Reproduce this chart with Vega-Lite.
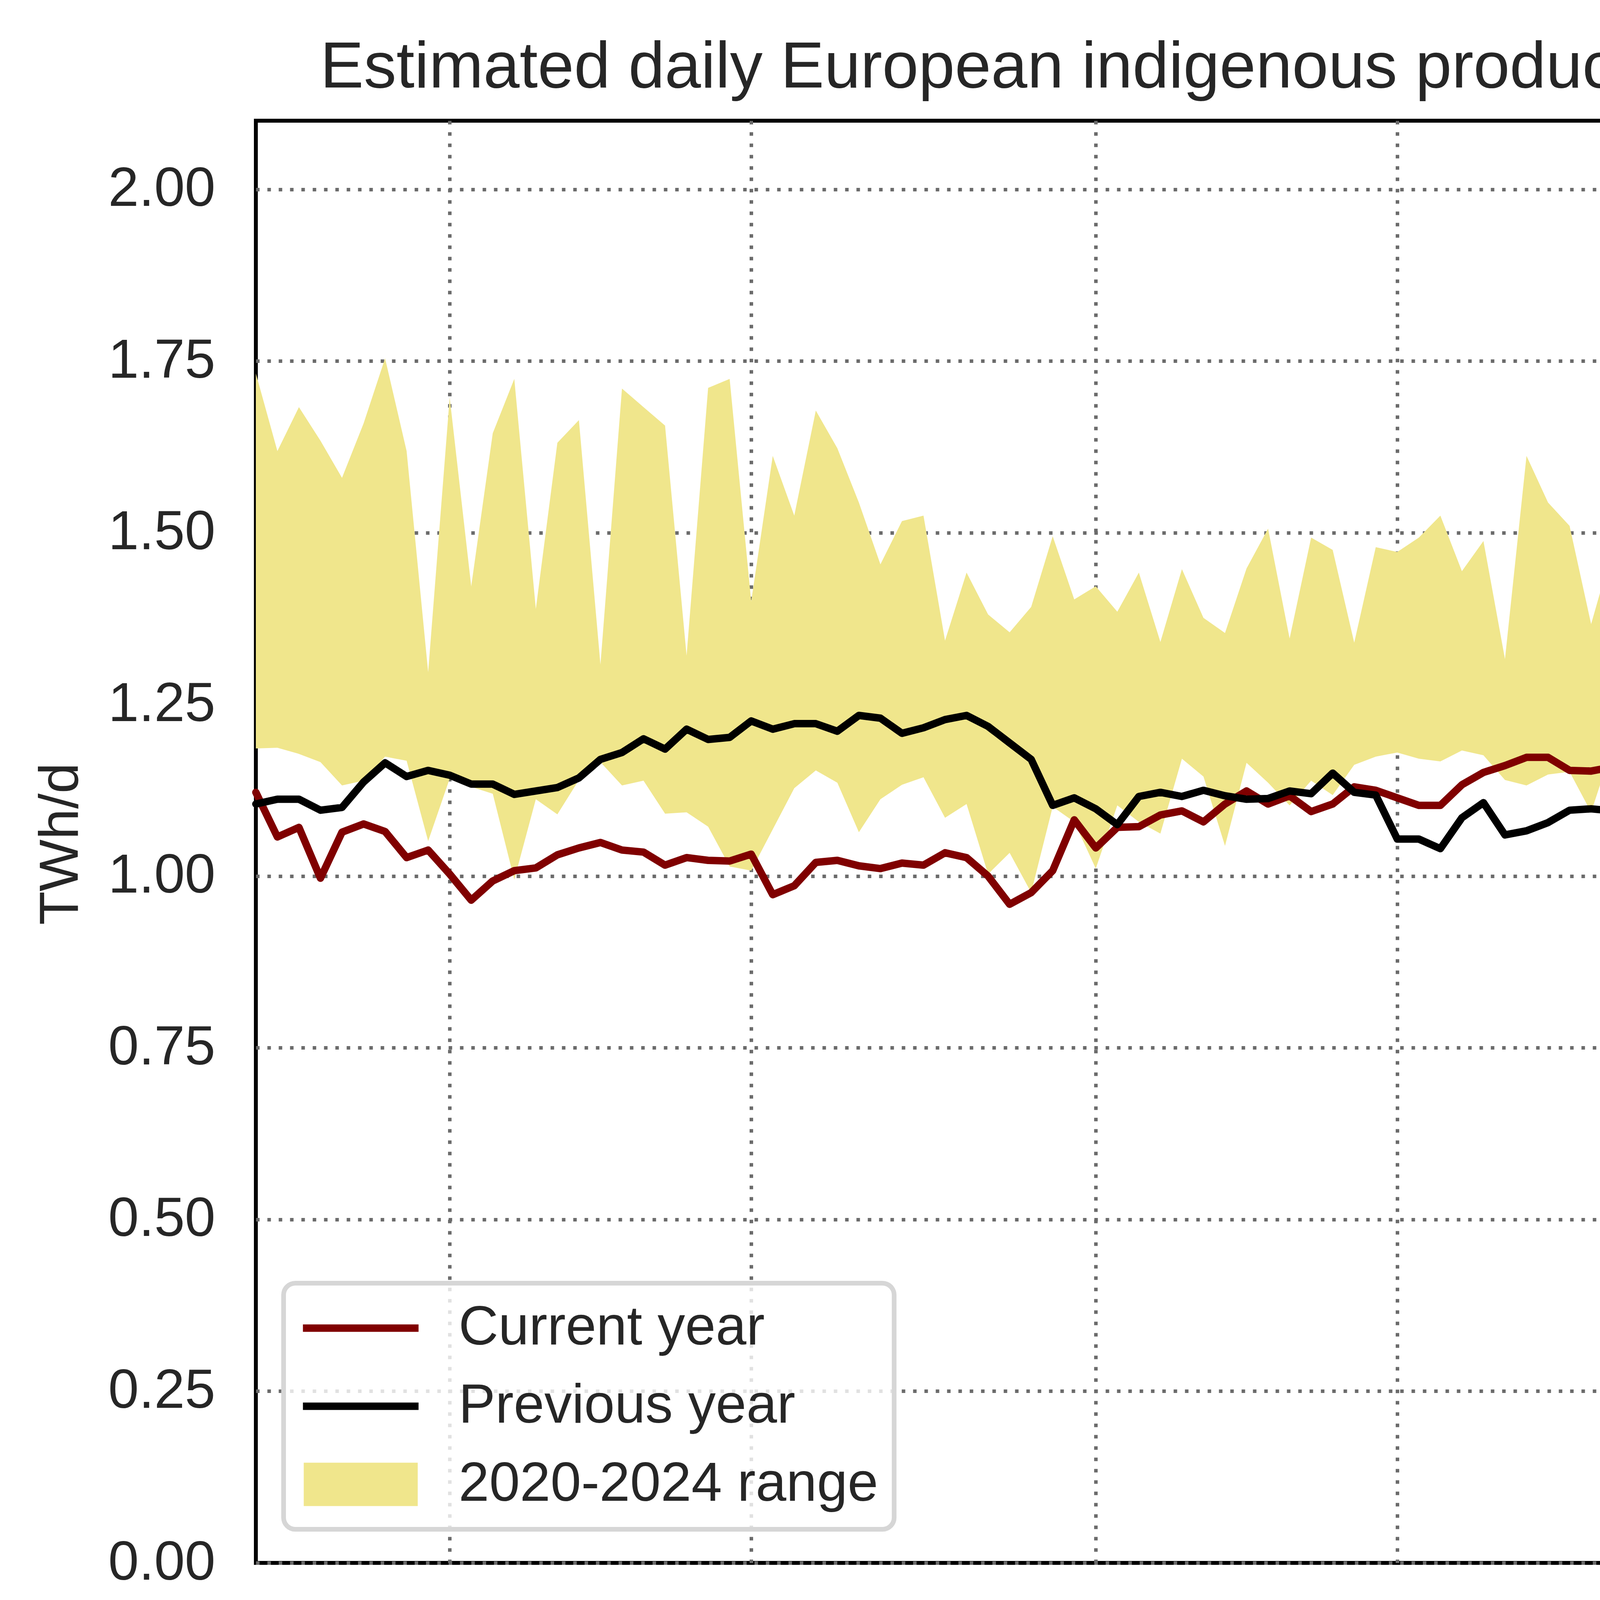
{
  "$schema": "https://vega.github.io/schema/vega-lite/v6.json",
  "width": 5713,
  "height": 4906,
  "autosize": {"type": "fit", "contains": "padding"},
  "padding": {"left": 85, "top": 90, "right": 96, "bottom": 60},
  "background": "white",
  "title": {
    "text": "Estimated daily European indigenous production (last 90 days)",
    "font": "Liberation Sans",
    "fontSize": 167,
    "fontWeight": "normal",
    "color": "#262626",
    "anchor": "middle",
    "baseline": "alphabetic",
    "offset": 83,
    "dy": 165,
    "limit": 6000
  },
  "config": {
    "view": {"stroke": "black", "strokeWidth": 10},
    "axis": {
      "labelFont": "Liberation Sans",
      "labelFontSize": 141,
      "labelColor": "#262626",
      "labelLimit": 3000,
      "titleFont": "Liberation Sans",
      "titleFontSize": 141,
      "titleFontWeight": "normal",
      "titleColor": "#262626",
      "titleLimit": 3000,
      "domain": false,
      "ticks": false,
      "tickSize": 0,
      "grid": true,
      "gridColor": "#6b6b6b",
      "gridWidth": 9,
      "gridDash": [9, 20],
      "gridOpacity": 1
    },
    "legend": {
      "title": null,
      "orient": "none",
      "padding": 40,
      "strokeWidth": 12,
      "symbolSize": 87616,
      "symbolStrokeWidth": 19,
      "symbolOpacity": 1,
      "labelFont": "Liberation Sans",
      "labelFontSize": 141,
      "labelColor": "#262626",
      "labelLimit": 3000,
      "labelOffset": 93,
      "clipHeight": 150,
      "rowPadding": 50
    }
  },
  "resolve": {
    "scale": {"color": "independent"},
    "legend": {"color": "independent"}
  },
  "data": {
    "values": [
      {"date": "2026-05-23", "cur": 1.122, "prev": 1.105, "lo": 1.186, "hi": 1.732},
      {"date": "2026-05-24", "cur": 1.057, "prev": 1.112, "lo": 1.187, "hi": 1.619},
      {"date": "2026-05-25", "cur": 1.071, "prev": 1.112, "lo": 1.178, "hi": 1.683},
      {"date": "2026-05-26", "cur": 0.997, "prev": 1.096, "lo": 1.166, "hi": 1.634},
      {"date": "2026-05-27", "cur": 1.064, "prev": 1.100, "lo": 1.132, "hi": 1.580},
      {"date": "2026-05-28", "cur": 1.076, "prev": 1.137, "lo": 1.139, "hi": 1.659},
      {"date": "2026-05-29", "cur": 1.065, "prev": 1.165, "lo": 1.174, "hi": 1.754},
      {"date": "2026-05-30", "cur": 1.027, "prev": 1.145, "lo": 1.168, "hi": 1.619},
      {"date": "2026-05-31", "cur": 1.038, "prev": 1.154, "lo": 1.051, "hi": 1.297},
      {"date": "2026-06-01", "cur": 1.003, "prev": 1.147, "lo": 1.142, "hi": 1.697},
      {"date": "2026-06-02", "cur": 0.965, "prev": 1.134, "lo": 1.130, "hi": 1.422},
      {"date": "2026-06-03", "cur": 0.993, "prev": 1.134, "lo": 1.120, "hi": 1.645},
      {"date": "2026-06-04", "cur": 1.008, "prev": 1.119, "lo": 0.995, "hi": 1.724},
      {"date": "2026-06-05", "cur": 1.012, "prev": 1.124, "lo": 1.112, "hi": 1.389},
      {"date": "2026-06-06", "cur": 1.031, "prev": 1.129, "lo": 1.090, "hi": 1.631},
      {"date": "2026-06-07", "cur": 1.041, "prev": 1.143, "lo": 1.140, "hi": 1.664},
      {"date": "2026-06-08", "cur": 1.049, "prev": 1.170, "lo": 1.166, "hi": 1.308},
      {"date": "2026-06-09", "cur": 1.038, "prev": 1.180, "lo": 1.132, "hi": 1.710},
      {"date": "2026-06-10", "cur": 1.035, "prev": 1.200, "lo": 1.139, "hi": 1.683},
      {"date": "2026-06-11", "cur": 1.016, "prev": 1.185, "lo": 1.091, "hi": 1.656},
      {"date": "2026-06-12", "cur": 1.027, "prev": 1.214, "lo": 1.093, "hi": 1.321},
      {"date": "2026-06-13", "cur": 1.023, "prev": 1.199, "lo": 1.072, "hi": 1.711},
      {"date": "2026-06-14", "cur": 1.022, "prev": 1.202, "lo": 1.014, "hi": 1.724},
      {"date": "2026-06-15", "cur": 1.032, "prev": 1.226, "lo": 1.008, "hi": 1.400},
      {"date": "2026-06-16", "cur": 0.973, "prev": 1.214, "lo": 1.068, "hi": 1.612},
      {"date": "2026-06-17", "cur": 0.986, "prev": 1.222, "lo": 1.128, "hi": 1.525},
      {"date": "2026-06-18", "cur": 1.020, "prev": 1.222, "lo": 1.154, "hi": 1.678},
      {"date": "2026-06-19", "cur": 1.023, "prev": 1.211, "lo": 1.136, "hi": 1.623},
      {"date": "2026-06-20", "cur": 1.015, "prev": 1.234, "lo": 1.064, "hi": 1.544},
      {"date": "2026-06-21", "cur": 1.011, "prev": 1.230, "lo": 1.112, "hi": 1.454},
      {"date": "2026-06-22", "cur": 1.019, "prev": 1.208, "lo": 1.133, "hi": 1.517},
      {"date": "2026-06-23", "cur": 1.016, "prev": 1.216, "lo": 1.144, "hi": 1.525},
      {"date": "2026-06-24", "cur": 1.034, "prev": 1.228, "lo": 1.085, "hi": 1.343},
      {"date": "2026-06-25", "cur": 1.027, "prev": 1.234, "lo": 1.105, "hi": 1.442},
      {"date": "2026-06-26", "cur": 1.000, "prev": 1.218, "lo": 1.003, "hi": 1.381},
      {"date": "2026-06-27", "cur": 0.959, "prev": 1.194, "lo": 1.034, "hi": 1.355},
      {"date": "2026-06-28", "cur": 0.976, "prev": 1.170, "lo": 0.976, "hi": 1.392},
      {"date": "2026-06-29", "cur": 1.008, "prev": 1.103, "lo": 1.101, "hi": 1.495},
      {"date": "2026-06-30", "cur": 1.082, "prev": 1.114, "lo": 1.079, "hi": 1.403},
      {"date": "2026-07-01", "cur": 1.041, "prev": 1.098, "lo": 1.011, "hi": 1.422},
      {"date": "2026-07-02", "cur": 1.071, "prev": 1.075, "lo": 1.103, "hi": 1.385},
      {"date": "2026-07-03", "cur": 1.072, "prev": 1.116, "lo": 1.079, "hi": 1.442},
      {"date": "2026-07-04", "cur": 1.089, "prev": 1.122, "lo": 1.062, "hi": 1.341},
      {"date": "2026-07-05", "cur": 1.095, "prev": 1.116, "lo": 1.171, "hi": 1.447},
      {"date": "2026-07-06", "cur": 1.079, "prev": 1.125, "lo": 1.145, "hi": 1.376},
      {"date": "2026-07-07", "cur": 1.105, "prev": 1.117, "lo": 1.044, "hi": 1.354},
      {"date": "2026-07-08", "cur": 1.124, "prev": 1.112, "lo": 1.165, "hi": 1.448},
      {"date": "2026-07-09", "cur": 1.105, "prev": 1.113, "lo": 1.136, "hi": 1.506},
      {"date": "2026-07-10", "cur": 1.117, "prev": 1.124, "lo": 1.103, "hi": 1.346},
      {"date": "2026-07-11", "cur": 1.094, "prev": 1.120, "lo": 1.139, "hi": 1.493},
      {"date": "2026-07-12", "cur": 1.105, "prev": 1.150, "lo": 1.118, "hi": 1.475},
      {"date": "2026-07-13", "cur": 1.130, "prev": 1.122, "lo": 1.162, "hi": 1.340},
      {"date": "2026-07-14", "cur": 1.125, "prev": 1.118, "lo": 1.174, "hi": 1.479},
      {"date": "2026-07-15", "cur": 1.114, "prev": 1.054, "lo": 1.180, "hi": 1.472},
      {"date": "2026-07-16", "cur": 1.103, "prev": 1.054, "lo": 1.171, "hi": 1.493},
      {"date": "2026-07-17", "cur": 1.103, "prev": 1.040, "lo": 1.167, "hi": 1.525},
      {"date": "2026-07-18", "cur": 1.133, "prev": 1.085, "lo": 1.183, "hi": 1.444},
      {"date": "2026-07-19", "cur": 1.151, "prev": 1.107, "lo": 1.176, "hi": 1.488},
      {"date": "2026-07-20", "cur": 1.161, "prev": 1.060, "lo": 1.140, "hi": 1.316},
      {"date": "2026-07-21", "cur": 1.173, "prev": 1.066, "lo": 1.132, "hi": 1.612},
      {"date": "2026-07-22", "cur": 1.173, "prev": 1.078, "lo": 1.148, "hi": 1.544},
      {"date": "2026-07-23", "cur": 1.154, "prev": 1.096, "lo": 1.152, "hi": 1.510},
      {"date": "2026-07-24", "cur": 1.153, "prev": 1.098, "lo": 1.093, "hi": 1.367},
      {"date": "2026-07-25", "cur": 1.159, "prev": 1.095, "lo": 1.189, "hi": 1.477},
      {"date": "2026-07-26", "cur": 1.131, "prev": 1.103, "lo": 1.210, "hi": 1.500},
      {"date": "2026-07-27", "cur": 1.139, "prev": 1.084, "lo": 1.216, "hi": 1.463},
      {"date": "2026-07-28", "cur": 1.149, "prev": 1.020, "lo": 1.071, "hi": 1.460},
      {"date": "2026-07-29", "cur": 1.187, "prev": 1.023, "lo": 1.211, "hi": 1.494},
      {"date": "2026-07-30", "cur": 1.169, "prev": 1.063, "lo": 1.223, "hi": 1.442},
      {"date": "2026-07-31", "cur": 1.170, "prev": 1.100, "lo": 1.052, "hi": 1.390},
      {"date": "2026-08-01", "cur": 1.148, "prev": 1.102, "lo": 1.095, "hi": 1.439},
      {"date": "2026-08-02", "cur": 1.142, "prev": 1.098, "lo": 1.084, "hi": 1.465},
      {"date": "2026-08-03", "cur": 1.042, "prev": 1.086, "lo": 1.085, "hi": 1.324},
      {"date": "2026-08-04", "cur": 1.027, "prev": 1.085, "lo": 1.075, "hi": 1.435},
      {"date": "2026-08-05", "cur": 1.010, "prev": 1.090, "lo": 1.069, "hi": 1.426},
      {"date": "2026-08-06", "cur": 1.023, "prev": 1.106, "lo": 1.063, "hi": 1.552},
      {"date": "2026-08-07", "cur": 1.082, "prev": 1.089, "lo": 1.061, "hi": 1.468},
      {"date": "2026-08-08", "cur": 1.063, "prev": 1.098, "lo": 1.060, "hi": 1.397},
      {"date": "2026-08-09", "cur": 1.063, "prev": 1.103, "lo": 1.047, "hi": 1.460},
      {"date": "2026-08-10", "cur": 1.064, "prev": 1.046, "lo": 1.033, "hi": 1.522},
      {"date": "2026-08-11", "cur": 1.054, "prev": 1.084, "lo": 1.034, "hi": 1.510},
      {"date": "2026-08-12", "cur": 1.071, "prev": 1.031, "lo": 1.052, "hi": 1.450},
      {"date": "2026-08-13", "cur": 1.063, "prev": 1.073, "lo": 1.079, "hi": 1.426},
      {"date": "2026-08-14", "cur": 1.087, "prev": 1.085, "lo": 1.136, "hi": 1.530},
      {"date": "2026-08-15", "cur": 1.090, "prev": 1.121, "lo": 1.120, "hi": 1.522},
      {"date": "2026-08-16", "cur": 1.094, "prev": 1.115, "lo": 1.122, "hi": 1.636},
      {"date": "2026-08-17", "cur": 1.120, "prev": 1.159, "lo": 1.131, "hi": 1.573},
      {"date": "2026-08-18", "cur": 1.103, "prev": 1.136, "lo": 1.161, "hi": 1.552},
      {"date": "2026-08-19", "cur": 1.005, "prev": 1.121, "lo": 1.125, "hi": 1.430},
      {"date": "2026-08-20", "cur": 1.082, "prev": 1.132, "lo": 1.185, "hi": 1.612}
    ]
  },
  "encoding": {
    "x": {
      "field": "date",
      "type": "temporal",
      "title": null,
      "scale": {
        "type": "utc",
        "domain": [
          {"year": 2026, "month": 5, "date": 23, "utc": true},
          {"year": 2026, "month": 8, "date": 21, "utc": true}
        ]
      },
      "axis": {
        "values": [
          {"year": 2026, "month": 6, "date": 1, "utc": true},
          {"year": 2026, "month": 6, "date": 15, "utc": true},
          {"year": 2026, "month": 7, "date": 1, "utc": true},
          {"year": 2026, "month": 7, "date": 15, "utc": true},
          {"year": 2026, "month": 8, "date": 1, "utc": true},
          {"year": 2026, "month": 8, "date": 15, "utc": true}
        ],
        "format": "%Y-%m-%d",
        "labelAngle": 270,
        "labelAlign": "right",
        "labelBaseline": "middle",
        "labelPadding": 123,
        "labelFlush": false,
        "labelOverlap": false
      }
    }
  },
  "layer": [
    {
      "mark": {"type": "area", "opacity": 1},
      "encoding": {
        "y": {
          "field": "lo",
          "type": "quantitative",
          "title": "TWh/d",
          "scale": {"domain": [0, 2.1], "nice": false, "zero": false},
          "axis": {
            "values": [0, 0.25, 0.5, 0.75, 1, 1.25, 1.5, 1.75, 2],
            "format": ".2f",
            "labelPadding": 104,
            "labelAlign": "right",
            "labelBaseline": "middle",
            "labelFlush": false,
            "titleAngle": 270,
            "titleAlign": "center",
            "titleBaseline": "alphabetic",
            "titleX": -457,
            "titleY": 1851
          }
        },
        "y2": {"field": "hi"},
        "color": {
          "datum": "2020-2024 range",
          "type": "nominal",
          "scale": {
            "domain": ["Current year", "Previous year", "2020-2024 range"],
            "range": ["rgba(255,255,255,0)", "rgba(255,255,255,0)", "#f0e68c"]
          },
          "legend": {
            "legendX": 71,
            "legendY": 2976,
            "symbolType": "M-0.986,-0.375H0.986V0.375H-0.986Z",
            "fillColor": "rgba(255,255,255,0.8)",
            "strokeColor": "#d6d6d6",
            "cornerRadius": 30
          }
        }
      }
    },
    {
      "mark": {"type": "line", "strokeWidth": 19, "strokeCap": "round", "strokeJoin": "round"},
      "encoding": {
        "y": {"field": "cur", "type": "quantitative", "title": "TWh/d"},
        "color": {
          "datum": "Current year",
          "type": "nominal",
          "scale": {"domain": ["Current year"], "range": ["#800000"]},
          "legend": {
            "legendX": 71,
            "legendY": 2976,
            "symbolType": "stroke",
            "labelExpr": "''"
          }
        }
      }
    },
    {
      "mark": {"type": "line", "strokeWidth": 19, "strokeCap": "round", "strokeJoin": "round"},
      "encoding": {
        "y": {"field": "prev", "type": "quantitative", "title": "TWh/d"},
        "color": {
          "datum": "Previous year",
          "type": "nominal",
          "scale": {"domain": ["Previous year"], "range": ["#000000"]},
          "legend": {
            "legendX": 71,
            "legendY": 3176,
            "symbolType": "stroke",
            "labelExpr": "''"
          }
        }
      }
    }
  ]
}
